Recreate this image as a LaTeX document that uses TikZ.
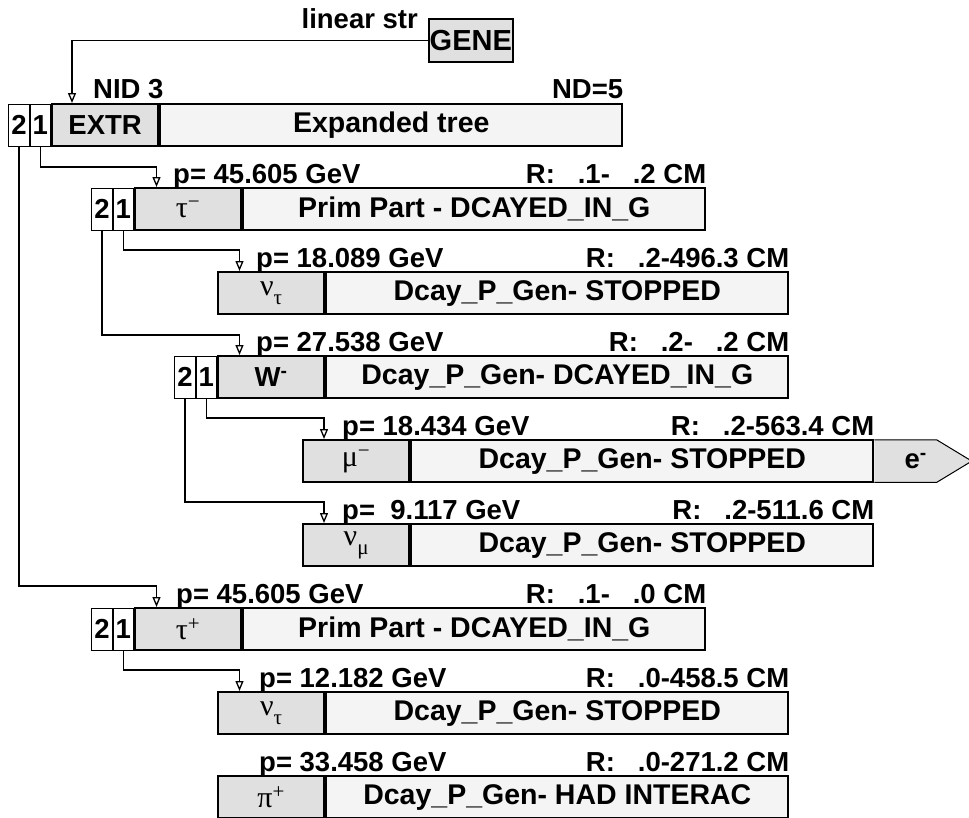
\documentclass[tikz,border=0pt]{standalone}
\usepackage{fontspec}
\setmainfont{Liberation Sans}
\newfontfamily\grkfont{Liberation Serif}
\usetikzlibrary{arrows.meta,positioning,backgrounds}
\definecolor{partgray}{HTML}{E0E0E0}
\definecolor{infogray}{HTML}{F4F4F4}
\newcommand{\tfont}{\fontsize{27.5}{29}\selectfont\bfseries}
\newcommand{\ifont}{\fontsize{28.5}{30}\selectfont\bfseries}
\newcommand{\grk}[1]{{\grkfont\mdseries\fontsize{30}{30}\selectfont #1}}
\newcommand{\grksub}[1]{\raisebox{-9pt}{\fontsize{21}{21}\selectfont #1}}
\tikzset{
  idxbox/.style={
    draw,
    line width=0.9pt,
    fill=white,
    minimum width=20.5pt,
    minimum height=42pt,
    inner sep=0pt,
    font=\tfont
  },
  partbox/.style={
    draw,
    line width=2.2pt,
    fill=partgray,
    minimum width=106pt,
    minimum height=42pt,
    inner sep=0pt,
    font=\tfont
  },
  infobox/.style={
    draw,
    line width=2.2pt,
    fill=infogray,
    minimum width=462pt,
    minimum height=42pt,
    inner sep=0pt,
    font=\ifont
  },
  toplabel/.style={inner sep=0pt,font=\tfont},
  treearrow/.style={-{Triangle[open,length=10pt,width=8pt]},line width=1.3pt}
}

\begin{document}
\begin{tikzpicture}[x=1pt,y=-1pt]
      \useasboundingbox (0,0) rectangle (969,817);
      \node[draw,line width=1.6pt,fill=partgray,minimum width=84pt,minimum height=43pt,
        inner sep=0pt,font=\fontsize{29}{30}\selectfont\bfseries,anchor=north west] (gene) at (428,18) {GENE};
      \node[toplabel,anchor=base east] (linstr) at ([xshift=-10pt,yshift=-10pt]gene.north west) {linear str};

      \node[partbox,anchor=north west] (extr) at (51,103) {EXTR};
      \node[idxbox,left=0pt of extr] (extr1) {1};
      \node[idxbox,left=0pt of extr1] (extr2) {2};
      \node[infobox,right=0pt of extr] (extrst) {Expanded tree};
      \node[toplabel,anchor=base west] (extrp) at ([xshift=42pt,yshift=5pt]extr.north west) {NID 3};
      \node[toplabel,anchor=base east] (extrr) at ([yshift=5pt]extrst.north east) {ND=5};

      \node[partbox,anchor=north west] (taum) at (134,187) {\grk{τ\textsuperscript{−}}};
      \node[idxbox,left=0pt of taum] (taum1) {1};
      \node[idxbox,left=0pt of taum1] (taum2) {2};
      \node[infobox,right=0pt of taum] (taumst) {Prim Part - DCAYED\_IN\_G};
      \node[toplabel,anchor=base west] (taump) at ([xshift=39pt,yshift=4pt]taum.north west) {p= 45.605 GeV};
      \node[toplabel,anchor=base east] (taumr) at ([yshift=4pt]taumst.north east) {R:\ \ \ .1-\ \ \ .2 CM};

      \node[partbox,anchor=north west] (nutaa) at (217,271) {\grk{ν\grksub{τ}}};
      \node[infobox,right=0pt of nutaa] (nutaast) {Dcay\_P\_Gen- STOPPED};
      \node[toplabel,anchor=base west] (nutaap) at ([xshift=39pt,yshift=4pt]nutaa.north west) {p= 18.089 GeV};
      \node[toplabel,anchor=base east] (nutaar) at ([yshift=4pt]nutaast.north east) {R:\ \ \ .2-496.3 CM};

      \node[partbox,anchor=north west] (wm) at (217,355) {W\textsuperscript{-}};
      \node[idxbox,left=0pt of wm] (wm1) {1};
      \node[idxbox,left=0pt of wm1] (wm2) {2};
      \node[infobox,right=0pt of wm] (wmst) {Dcay\_P\_Gen- DCAYED\_IN\_G};
      \node[toplabel,anchor=base west] (wmp) at ([xshift=39pt,yshift=4pt]wm.north west) {p= 27.538 GeV};
      \node[toplabel,anchor=base east] (wmr) at ([yshift=4pt]wmst.north east) {R:\ \ \ .2-\ \ \ .2 CM};

      \node[partbox,anchor=north west] (mum) at (302,439) {\grk{μ\textsuperscript{−}}};
      \node[infobox,right=0pt of mum] (mumst) {Dcay\_P\_Gen- STOPPED};
      \node[toplabel,anchor=base west] (mump) at ([xshift=40pt,yshift=4pt]mum.north west) {p= 18.434 GeV};
      \node[toplabel,anchor=base east] (mumr) at ([yshift=4pt]mumst.north east) {R:\ \ \ .2-563.4 CM};
      \node[right=0pt of mumst,minimum width=82pt,minimum height=42pt,inner sep=0pt,font=\tfont] (elec) {e\textsuperscript{-}};
      \begin{scope}[on background layer]
        \draw[line width=1pt,fill=partgray] (elec.north west) -- ([xshift=-20pt]elec.north east)
          -- ([xshift=15pt]elec.east) -- ([xshift=-20pt]elec.south east) -- (elec.south west);
      \end{scope}

      \node[partbox,anchor=north west] (numu) at (302,523) {\grk{ν\grksub{μ}}};
      \node[infobox,right=0pt of numu] (numust) {Dcay\_P\_Gen- STOPPED};
      \node[toplabel,anchor=base west] (numup) at ([xshift=40pt,yshift=4pt]numu.north west) {p=\ \ 9.117 GeV};
      \node[toplabel,anchor=base east] (numur) at ([yshift=4pt]numust.north east) {R:\ \ \ .2-511.6 CM};

      \node[partbox,anchor=north west] (taup) at (134,607) {\grk{τ\textsuperscript{+}}};
      \node[idxbox,left=0pt of taup] (taup1) {1};
      \node[idxbox,left=0pt of taup1] (taup2) {2};
      \node[infobox,right=0pt of taup] (taupst) {Prim Part - DCAYED\_IN\_G};
      \node[toplabel,anchor=base west] (taupp) at ([xshift=42pt,yshift=4pt]taup.north west) {p= 45.605 GeV};
      \node[toplabel,anchor=base east] (taupr) at ([yshift=4pt]taupst.north east) {R:\ \ \ .1-\ \ \ .0 CM};

      \node[partbox,anchor=north west] (nutab) at (217,691) {\grk{ν\grksub{τ}}};
      \node[infobox,right=0pt of nutab] (nutabst) {Dcay\_P\_Gen- STOPPED};
      \node[toplabel,anchor=base west] (nutabp) at ([xshift=42pt,yshift=4pt]nutab.north west) {p= 12.182 GeV};
      \node[toplabel,anchor=base east] (nutabr) at ([yshift=4pt]nutabst.north east) {R:\ \ \ .0-458.5 CM};

      \node[partbox,anchor=north west] (pip) at (217,775) {\grk{π\textsuperscript{+}}};
      \node[infobox,right=0pt of pip] (pipst) {Dcay\_P\_Gen- HAD INTERAC};
      \node[toplabel,anchor=base west] (pipp) at ([xshift=42pt,yshift=4pt]pip.north west) {p= 33.458 GeV};
      \node[toplabel,anchor=base east] (pipr) at ([yshift=4pt]pipst.north east) {R:\ \ \ .0-271.2 CM};

      \draw[treearrow] (gene.west) -| ([xshift=21pt]extr.north west);
      \draw[treearrow] (extr1.south) |- ([xshift=22.5pt,yshift=20pt]taum.north west)
        -- ([xshift=22.5pt]taum.north west);
      \draw[treearrow] (extr2.south) |- ([xshift=22.5pt,yshift=21pt]taup.north west)
        -- ([xshift=22.5pt]taup.north west);
      \draw[treearrow] (taum1.south) |- ([xshift=22.5pt,yshift=21pt]nutaa.north west)
        -- ([xshift=22.5pt]nutaa.north west);
      \draw[treearrow] (taum2.south) |- ([xshift=22.5pt,yshift=20pt]wm.north west)
        -- ([xshift=22.5pt]wm.north west);
      \draw[treearrow] (wm1.south) |- ([xshift=22pt,yshift=21pt]mum.north west)
        -- ([xshift=22pt]mum.north west);
      \draw[treearrow] (wm2.south) |- ([xshift=22pt,yshift=21pt]numu.north west)
        -- ([xshift=22pt]numu.north west);
      \draw[treearrow] (taup1.south) |- ([xshift=22.5pt,yshift=21pt]nutab.north west)
        -- ([xshift=22.5pt]nutab.north west);
    \end{tikzpicture}
\end{document}
